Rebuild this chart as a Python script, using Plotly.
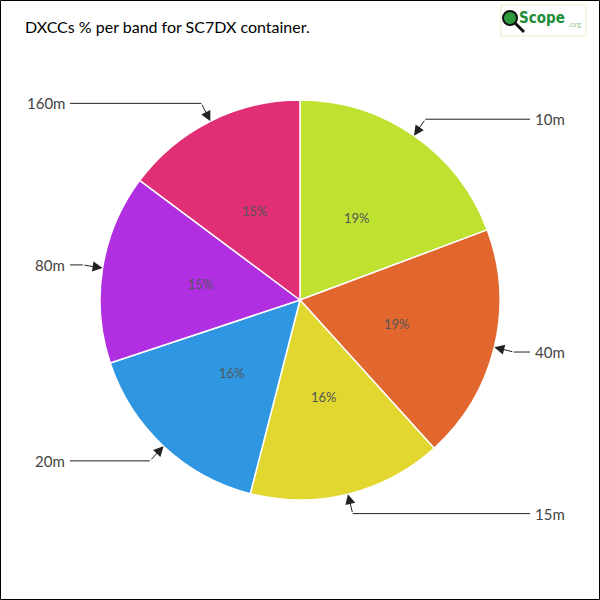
import math
import plotly.graph_objects as go

bands = ["10m", "40m", "15m", "20m", "80m", "160m"]
shares = [19.3, 19.0, 15.7, 15.9, 15.3, 14.8]
colors = ["#BEE22F", "#E1672F", "#E1D72F", "#2F97E1", "#AF2FE1", "#E12F75"]
title_text = "DXCCs % per band for SC7DX container."

W = H = 600
ML = MR = MT = MB = 100
CX, CY, R = 300, 300, 200
R_ELBOW = 220
R_TEXT = 100
FONT = "Lato"


def px_to_paper(px, py):
    return (px - ML) / (W - ML - MR), (H - MB - py) / (H - MT - MB)


fig = go.Figure(go.Pie(
    labels=bands,
    values=shares,
    sort=False,
    direction="clockwise",
    rotation=0,
    marker=dict(colors=colors, line=dict(color="white", width=1.5)),
    textinfo="none",
    hoverinfo="label+percent",
    showlegend=False,
))

shapes = []
annotations = []
total = sum(shares)
cum = 0.0
for band, v in zip(bands, shares):
    mid = (cum + v / 2) / total * 2 * math.pi
    cum += v
    s, c = math.sin(mid), math.cos(mid)
    # percent label inside
    qx, qy = px_to_paper(CX + R_TEXT * s, CY - R_TEXT * c)
    annotations.append(dict(
        x=qx, y=qy, xref="paper", yref="paper",
        text=f"{round(v / total * 100)}%", showarrow=False,
        xanchor="center", yanchor="middle",
        font=dict(family=FONT, size=13, color="#555555"),
    ))
    tx, ty = CX + R * s, CY - R * c
    ex, ey = CX + R_ELBOW * s, CY - R_ELBOW * c
    endx = 530 if s > 0 else 70
    # arrow segment
    px, py = px_to_paper(tx, ty)
    annotations.append(dict(
        x=px, y=py, xref="paper", yref="paper", text="",
        showarrow=True, ax=ex - tx, ay=ey - ty,
        arrowhead=2, arrowsize=2, arrowwidth=1, arrowcolor="#222222",
        standoff=0,
    ))
    # horizontal segment
    x0, y0 = px_to_paper(ex, ey)
    x1, _ = px_to_paper(endx, ey)
    shapes.append(dict(type="line", xref="paper", yref="paper",
                       x0=x0, y0=y0, x1=x1, y1=y0,
                       line=dict(color="#222222", width=1)))
    lx, ly = px_to_paper(endx + (3 if s > 0 else -3), ey)
    annotations.append(dict(
        x=lx, y=ly, xref="paper", yref="paper", text=band,
        showarrow=False, xanchor="left" if s > 0 else "right", yanchor="middle",
        font=dict(family=FONT, size=15, color="#444444"),
    ))

# outer border
bx0, by0 = px_to_paper(0.5, 599.5)
bx1, by1 = px_to_paper(599.5, 0.5)
shapes.append(dict(type="rect", xref="paper", yref="paper",
                   x0=bx0, y0=by0, x1=bx1, y1=by1,
                   line=dict(color="black", width=1)))

# logo box
lx0, ly0 = px_to_paper(501, 36)
lx1, ly1 = px_to_paper(586, 5)
shapes.append(dict(type="rect", xref="paper", yref="paper",
                   x0=lx0, y0=ly0, x1=lx1, y1=ly1,
                   line=dict(color="#E6EEC8", width=1), fillcolor="white"))
gx0, gy0 = px_to_paper(503, 25)
gx1, gy1 = px_to_paper(517, 11)
shapes.append(dict(type="circle", xref="paper", yref="paper",
                   x0=gx0, y0=gy0, x1=gx1, y1=gy1,
                   line=dict(color="#111111", width=2), fillcolor="#2E9A3C"))
hx0, hy0 = px_to_paper(515, 23)
hx1, hy1 = px_to_paper(524, 32)
shapes.append(dict(type="line", xref="paper", yref="paper",
                   x0=hx0, y0=hy0, x1=hx1, y1=hy1,
                   line=dict(color="#111111", width=3)))
sx, sy = px_to_paper(517, 18)
annotations.append(dict(x=sx, y=sy, xref="paper", yref="paper",
                        text="<b>Scope</b>", showarrow=False,
                        xanchor="left", yanchor="middle",
                        font=dict(family="DejaVu Sans Condensed", size=15, color="#1E8C3A")))
ox, oy = px_to_paper(566, 24)
annotations.append(dict(x=ox, y=oy, xref="paper", yref="paper",
                        text=".org", showarrow=False,
                        xanchor="left", yanchor="middle",
                        font=dict(family=FONT, size=8, color="#9BC88F")))

fig.update_layout(
    width=W, height=H,
    margin=dict(l=ML, r=MR, t=MT, b=MB),
    paper_bgcolor="white",
    plot_bgcolor="white",
    title=dict(text=title_text, x=25 / W, xanchor="left", y=1 - 27 / H, yanchor="middle",
               font=dict(family=FONT, size=16, color="black")),
    shapes=shapes,
    annotations=annotations,
)

fig.write_html("out.html", config={"displayModeBar": False},
               post_script="document.body.style.margin='0';")
